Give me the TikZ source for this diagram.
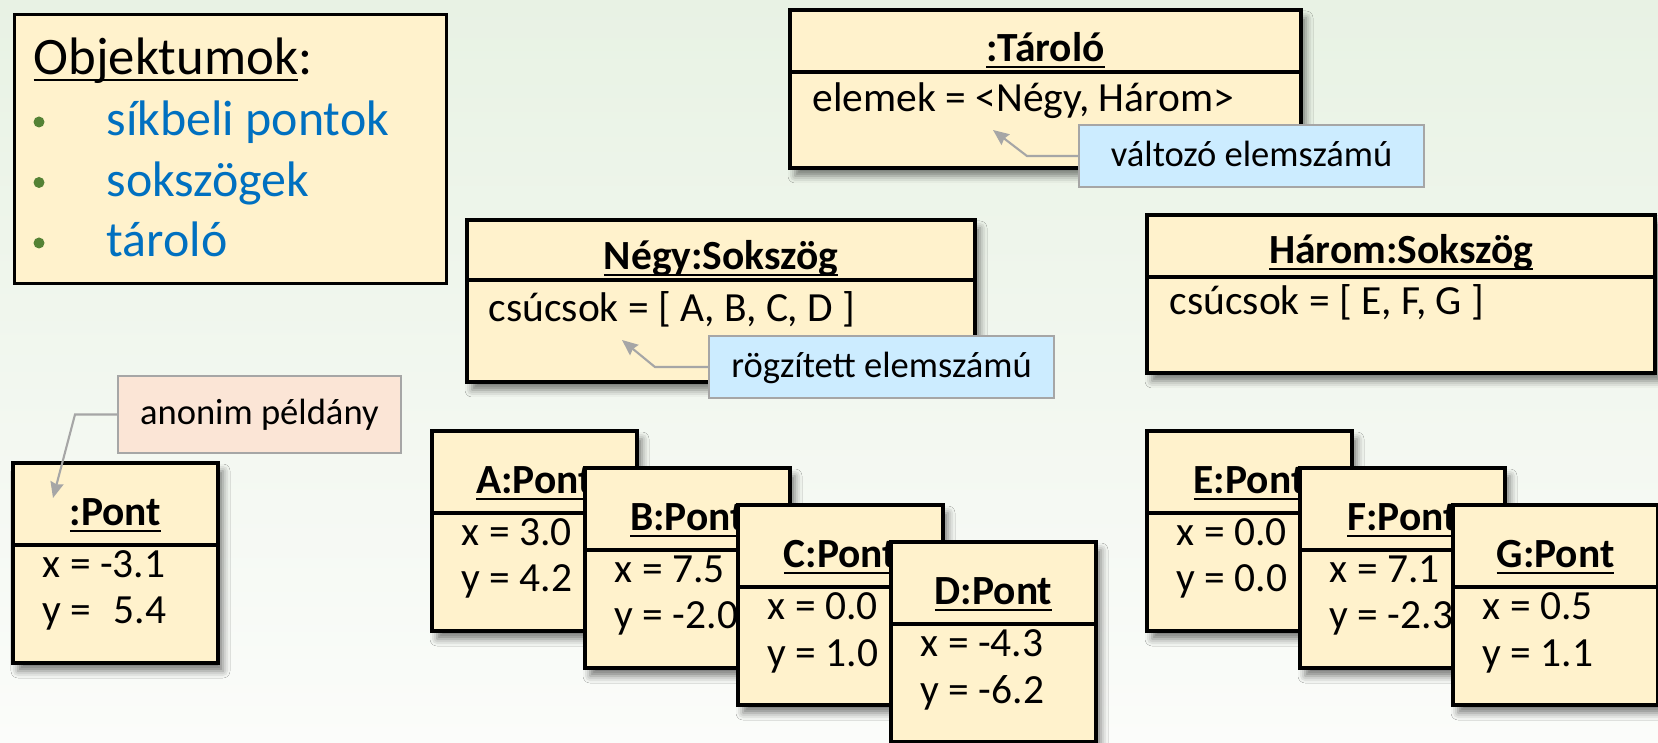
\documentclass[tikz,border=0pt]{standalone}
\usepackage{fontspec}
\setmainfont{Carlito}
\usetikzlibrary{arrows.meta, shadows.blur}
\definecolor{objfill}{RGB}{255,242,204}
\definecolor{bgtop}{RGB}{232,242,228}
\definecolor{bgbot}{RGB}{251,252,250}
\definecolor{noteblue}{RGB}{204,236,255}
\definecolor{notepink}{RGB}{251,229,214}
\definecolor{noteline}{RGB}{166,166,166}
\definecolor{listblue}{RGB}{0,112,192}
\definecolor{listgreen}{RGB}{84,130,53}
\newcommand{\objul}[1]{\underline{\smash{#1}}}
\tikzset{
  objbox/.style={rectangle, draw=black, fill=objfill, line width=1pt,
    anchor=north west, inner sep=0pt, outer sep=0pt,
    blur shadow={shadow xshift=0.5mm, shadow yshift=-0.8mm,
      shadow blur radius=0.7mm, shadow opacity=50}},
  pontbox/.style={objbox, minimum width=2.05cm, minimum height=2cm},
  polybox/.style={objbox, minimum width=5.08cm, minimum height=1.6cm},
  divider/.style={line width=1pt},
  objtitle/.style={anchor=base, inner sep=0pt,
    font=\fontsize{11.8}{14}\selectfont\bfseries},
  objattr/.style={anchor=base west, inner sep=0pt,
    font=\fontsize{11.8}{14}\selectfont},
  note/.style={rectangle, draw=noteline, line width=0.6pt, anchor=north west,
    minimum height=0.62cm, inner xsep=0.22cm, text height=0.27cm,
    text depth=0.07cm, font=\fontsize{10.4}{12}\selectfont},
  notearrow/.style={-{Stealth[length=4.5pt, width=3.8pt, inset=0.5pt]},
    draw=noteline, line width=0.6pt},
  listitem/.style={anchor=base west, inner sep=0pt, text=listblue,
    font=\fontsize{14.2}{17}\selectfont},
  bulletdot/.style={circle, fill=listgreen, inner sep=0pt, minimum size=0.11cm}
}
\begin{document}
\begin{tikzpicture}
  % background
  \shade[top color=bgtop, bottom color=bgbot] (0,0) rectangle (16.58,-7.43);
  \useasboundingbox (0,0) rectangle (16.58,-7.43);

  % legend
  \node[rectangle, draw=black, fill=objfill, line width=0.8pt, anchor=north west,
    minimum width=4.32cm, minimum height=2.69cm] (legend) at (0.13,-0.13) {};
  \node[anchor=base west, inner sep=0pt, font=\fontsize{15}{18}\selectfont]
    (legend-title) at (0.33,-0.75) {\objul{Objektumok}:};
  \foreach \txt [count=\i] in {síkbeli pontok, sokszögek, tároló} {
    \node[bulletdot] (dot-\i) at (0.39,{-1.22-0.605*(\i-1)}) {};
    \node[listitem] (item-\i) at (1.06,{-1.36-0.605*(\i-1)}) {\txt};
  }

  % container
  \node[polybox, minimum width=5.11cm, minimum height=1.58cm] (taro) at (7.90,-0.10) {};
  \draw[divider] ([yshift=-6.2mm]taro.north west) -- ([yshift=-6.2mm]taro.north east);
  \node[objtitle] (taro-t) at ([yshift=-5.2mm]taro.north) {\objul{:Tároló}};
  \node[objattr] (taro-a) at ([xshift=2.2mm,yshift=-10.2mm]taro.north west)
    {elemek = <Négy, Három>};

  \node[note, fill=noteblue, minimum width=3.45cm] (valt) at (10.78,-1.24) {változó elemszámú};
  \coordinate (valt-tip) at (9.93,-1.30);
  \draw[notearrow] (valt.west) -- ++(-0.51,0) -- (valt-tip);

  % polygons
  \node[polybox, minimum height=1.62cm] (negy) at (4.67,-2.20) {};
  \draw[divider] ([yshift=-6.0mm]negy.north west) -- ([yshift=-6.0mm]negy.north east);
  \node[objtitle] (negy-t) at ([yshift=-5.0mm]negy.north) {\objul{Négy:Sokszög}};
  \node[objattr] (negy-a) at ([xshift=2.1mm,yshift=-10.2mm]negy.north west)
    {csúcsok = [ A, B, C, D ]};

  \node[note, fill=noteblue, minimum width=3.45cm] (rogz) at (7.08,-3.35) {rögzített elemszámú};
  \coordinate (rogz-tip) at (6.22,-3.40);
  \draw[notearrow] (rogz.west) -- ++(-0.53,0) -- (rogz-tip);

  \node[polybox, minimum height=1.58cm] (harom) at (11.47,-2.15) {};
  \draw[divider] ([yshift=-6.2mm]harom.north west) -- ([yshift=-6.2mm]harom.north east);
  \node[objtitle] (harom-t) at ([yshift=-4.9mm]harom.north) {\objul{Három:Sokszög}};
  \node[objattr] (harom-a) at ([xshift=2.2mm,yshift=-10.0mm]harom.north west)
    {csúcsok = [ E, F, G ]};

  % anonymous point
  \node[pontbox] (anonpont) at (0.13,-4.63) {};
  \draw[divider] ([yshift=-8.2mm]anonpont.north west) -- ([yshift=-8.2mm]anonpont.north east);
  \node[objtitle] (anonpont-t) at ([yshift=-6.3mm]anonpont.north) {\objul{:Pont}};
  \node[objattr] (anonpont-x) at ([xshift=2.9mm,yshift=-11.5mm]anonpont.north west) {x = -3.1};
  \node[objattr] (anonpont-y) at ([xshift=2.9mm,yshift=-16.1mm]anonpont.north west) {y = \phantom{-}5.4};

  \node[note, fill=notepink, minimum width=2.76cm, minimum height=0.77cm] (anon) at (1.17,-3.75) {anonim példány};
  \coordinate (anon-tip) at (0.53,-4.98);
  \draw[notearrow] (anon.west) -- ++(-0.42,0) -- (anon-tip);

  % vertices of the two polygons
  \foreach \nm/\px/\py/\vx/\vy in {A/4.32/-4.31/3.0/4.2, B/5.85/-4.68/7.5/-2.0,
      C/7.38/-5.05/0.0/1.0, D/8.91/-5.42/-4.3/-6.2,
      E/11.47/-4.31/0.0/0.0, F/13.00/-4.68/7.1/-2.3, G/14.53/-5.05/0.5/1.1} {
    \node[pontbox] (\nm) at (\px,\py) {};
    \draw[divider] ([yshift=-8.2mm]\nm.north west) -- ([yshift=-8.2mm]\nm.north east);
    \node[objtitle] (\nm-t) at ([yshift=-6.3mm]\nm.north) {\objul{\nm:Pont}};
    \node[objattr] (\nm-x) at ([xshift=2.9mm,yshift=-11.5mm]\nm.north west) {x = \vx};
    \node[objattr] (\nm-y) at ([xshift=2.9mm,yshift=-16.1mm]\nm.north west) {y = \vy};
  }
\end{tikzpicture}
\end{document}
